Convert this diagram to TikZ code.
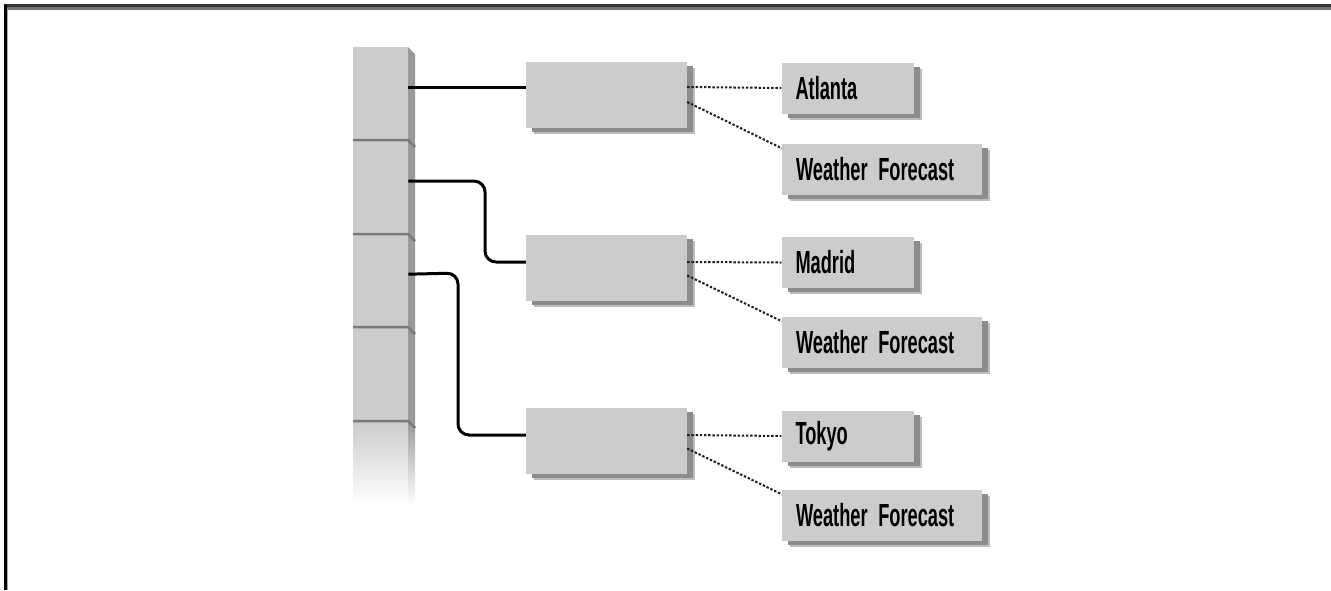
\documentclass[tikz,border=0pt]{standalone}
\usepackage{fontspec}
\newfontfamily\lblfont[FakeStretch=0.57,WordSpace=0.45]{Liberation Sans}
\usetikzlibrary{shadows,calc}
\definecolor{boxgray}{HTML}{CCCCCC}
\definecolor{sidegray}{HTML}{9A9A9A}
\definecolor{divgray}{HTML}{7A7A7A}
\definecolor{shadowdark}{HTML}{8C8C8C}
\definecolor{shadowlight}{HTML}{BDBDBD}
\definecolor{dotgray}{HTML}{1E1E1E}
\tikzset{
  shadowed/.style={
    drop shadow={shadow xshift=8pt, shadow yshift=-6pt, fill=shadowlight, opacity=1},
    drop shadow={shadow xshift=6pt, shadow yshift=-4pt, fill=shadowdark, opacity=1}},
  midbox/.style={shadowed, fill=boxgray, draw=none, minimum width=161pt, minimum height=66pt, inner sep=0pt},
  lblbox/.style={shadowed, fill=boxgray, draw=none, minimum height=51pt, inner xsep=14pt, inner ysep=0pt,
    align=left, font=\lblfont\bfseries\fontsize{32}{32}\selectfont},
  seg/.style={fill=boxgray, draw=none, minimum width=55pt, minimum height=94pt, inner sep=0pt, anchor=north west},
  wire/.style={line width=3pt, black, rounded corners=11pt},
  dots/.style={line width=2pt, dotgray, dash pattern=on 2.4pt off 1.8pt},
  divider/.style={line width=2.5pt, divgray}
}
\begin{document}
\begin{tikzpicture}[x=1pt,y=-1pt]
\useasboundingbox (0,0) rectangle (1331,590);
% frame
\draw[line width=3pt, black!55] (4,8) -- (1331,8);
\draw[line width=2.5pt, black!80] (4,5.5) -- (1331,5.5);
\draw[line width=1.5pt, black!35] (7.5,9) -- (7.5,590);
\draw[line width=3pt, black] (5,4.5) -- (5,590);

% column
\node[seg] (seg1) at (353,47) {};
\node[seg] (seg2) at (353,140) {};
\node[seg] (seg3) at (353,234) {};
\node[seg] (seg4) at (353,327) {};
\shade[top color=boxgray, bottom color=white] (353,421) rectangle (408,505);
\fill[sidegray] (408,47) -- (415,54) -- (415,421) -- (408,421) -- cycle;
\shade[top color=sidegray, bottom color=white] (408,421) rectangle (415,505);
\foreach \yy in {140,234,327,421}{
  \draw[divider] (353,\yy) -- (408,\yy) -- (415,\yy+7);
}

% middle boxes
\node[midbox] (mid1) at (606.5,94.5) {};
\node[midbox] (mid2) at (606.5,268) {};
\node[midbox] (mid3) at (606.5,441) {};

% label boxes
\node[lblbox, text width=104pt] (atl) at (847.5,88) {Atlanta};
\node[lblbox, text width=172pt] (wf1) at (882,169) {Weather Forecast};
\node[lblbox, text width=104pt] (mad) at (847.5,262.5) {Madrid};
\node[lblbox, text width=172pt] (wf2) at (882,342) {Weather Forecast};
\node[lblbox, text width=104pt] (tok) at (847.5,436) {Tokyo};
\node[lblbox, text width=172pt] (wf3) at (882,515) {Weather Forecast};

% connectors from column
\coordinate (c1) at ([yshift=7pt]seg1.east);
\coordinate (c2) at ([yshift=6pt]seg2.east);
\coordinate (c3) at ([yshift=7pt]seg3.east);
\draw[wire] (c1) -- (c1 -| mid1.west);
\draw[wire] (c2) -- (485,181) -- (485,262) -- ([yshift=6pt]mid2.west);
\draw[wire] (c3) -- (458,273) -- (458,435) -- ([yshift=6pt]mid3.west);

% dotted links
\draw[dots] ([yshift=7.5pt]mid1.east) -- (atl.west);
\draw[dots] ([yshift=-7.5pt]mid1.east) -- ([yshift=-5pt]wf1.north west);
\draw[dots] ([yshift=6pt]mid2.east) -- (mad.west);
\draw[dots] ([yshift=-7.5pt]mid2.east) -- ([yshift=-5pt]wf2.north west);
\draw[dots] ([yshift=6pt]mid3.east) -- (tok.west);
\draw[dots] ([yshift=-7.5pt]mid3.east) -- ([yshift=-5pt]wf3.north west);
\end{tikzpicture}
\end{document}
